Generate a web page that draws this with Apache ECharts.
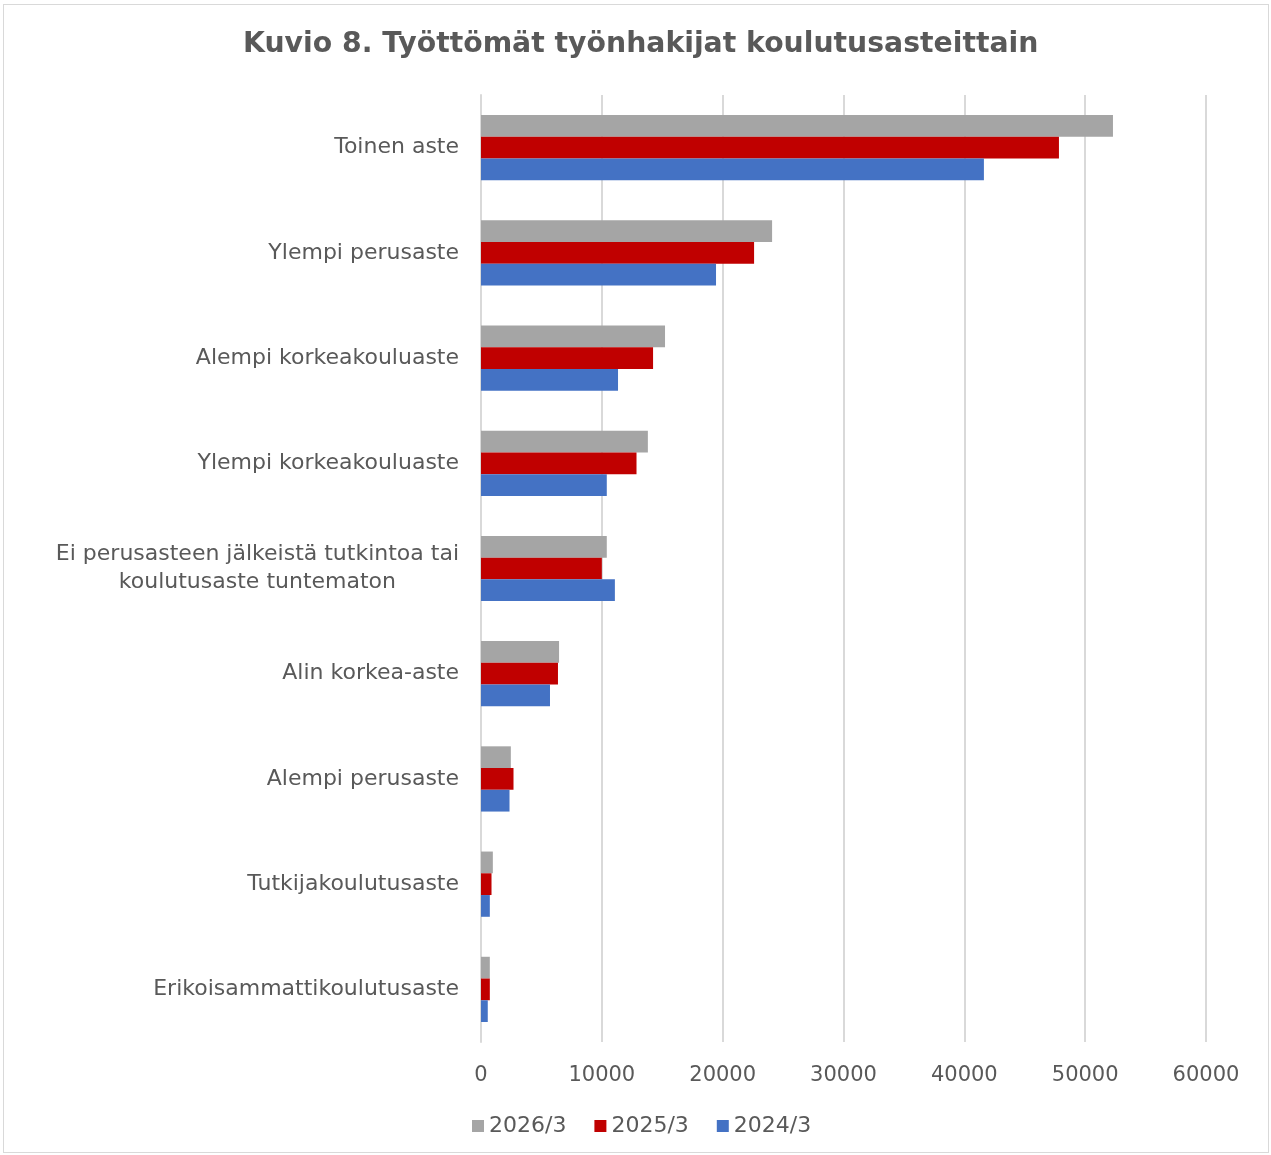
<!DOCTYPE html>
<html>
<head>
<meta charset="utf-8">
<script src="https://cdn.jsdelivr.net/npm/echarts@6/dist/echarts.min.js"></script>
<style>
html,body{margin:0;padding:0;background:#fff;}
#frame{position:absolute;left:3px;top:4px;width:1264px;height:1147px;border:1px solid #d9d9d9;}
#chart{position:absolute;left:0;top:0;width:1271px;height:1155px;}
</style>
</head>
<body>
<div id="frame"></div>
<div id="chart"></div>
<script>
const categories = [
  "Toinen aste",
  "Ylempi perusaste",
  "Alempi korkeakouluaste",
  "Ylempi korkeakouluaste",
  "Ei perusasteen jälkeistä tutkintoa tai\nkoulutusaste tuntematon",
  "Alin korkea-aste",
  "Alempi perusaste",
  "Tutkijakoulutusaste",
  "Erikoisammattikoulutusaste"
];
const seriesNames = ["2026/3", "2025/3", "2024/3"];
const values2026 = [52300, 24090, 15230, 13810, 10410, 6460, 2470, 980, 730];
const values2025 = [47830, 22600, 14240, 12870, 10000, 6370, 2690, 870, 730];
const values2024 = [41620, 19450, 11340, 10410, 11080, 5710, 2360, 730, 560];
const xTicks = [0, 10000, 20000, 30000, 40000, 50000, 60000];

const colors = ["#A5A5A5", "#C00000", "#4472C4"];
const font = "'DejaVu Sans', sans-serif";

const chart = echarts.init(document.getElementById('chart'));
const dataSets = [values2026, values2025, values2024];
chart.setOption({
  animation: false,
  title: {
    text: "Kuvio 8. Työttömät työnhakijat koulutusasteittain",
    left: 238, top: 26,
    textStyle: {fontFamily: font, fontSize: 28.3, fontWeight: 'bold', color: '#595959'}
  },
  legend: {
    data: seriesNames,
    bottom: 13, left: 467,
    itemWidth: 12, itemHeight: 12, itemGap: 28,
    icon: 'rect',
    textStyle: {fontFamily: font, fontSize: 22, color: '#595959'}
  },
  grid: {left: 481, right: 65, top: 95, bottom: 113, containLabel: false},
  xAxis: {
    type: 'value', min: xTicks[0], max: xTicks[xTicks.length-1], interval: 10000,
    axisLine: {show: false}, axisTick: {show: false},
    splitLine: {lineStyle: {color: '#d9d9d9', width: 2}},
    axisLabel: {fontFamily: font, fontSize: 21, color: '#595959', margin: 23,
      formatter: function (v) { return String(v); }}
  },
  yAxis: {
    type: 'category', data: categories, inverse: true,
    axisLine: {show: true, lineStyle: {color: '#d9d9d9', width: 2}},
    axisTick: {show: false},
    axisLabel: {
      fontFamily: font, fontSize: 22, color: '#595959', margin: 22, lineHeight: 28,
      formatter: function (v) {
        return v.split('\n').map(function (l) { return '{c|' + l + '}'; }).join('\n');
      },
      rich: {c: {align: 'center', fontFamily: font, fontSize: 22, color: '#595959', lineHeight: 28}}
    }
  },
  series: seriesNames.map(function (n, i) {
    return {
      name: n, type: 'bar', data: dataSets[i],
      itemStyle: {color: colors[i]},
      barGap: '0%', barCategoryGap: '38%'
    };
  })
});
</script>
</body>
</html>
